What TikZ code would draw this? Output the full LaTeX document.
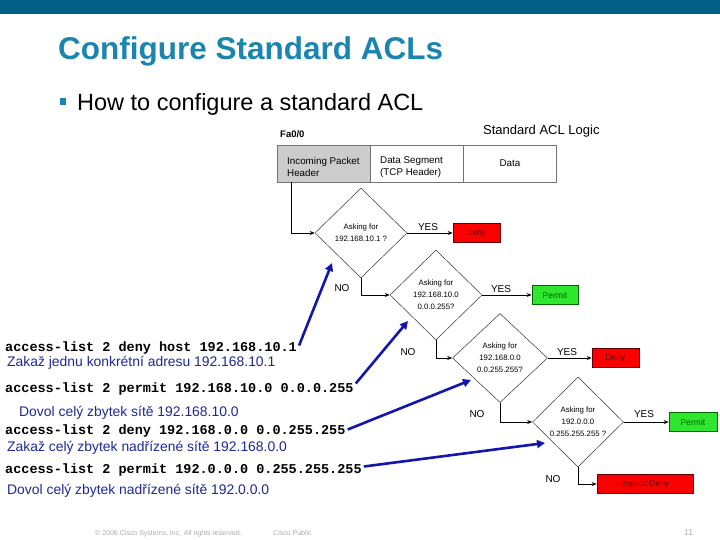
\documentclass[tikz,border=0pt]{standalone}
\usepackage{fontspec}
\setmainfont{Liberation Sans}
\newfontfamily\codefont{Liberation Mono}
\usetikzlibrary{shapes.geometric,arrows.meta}
\definecolor{barblue}{RGB}{0,96,135}
\definecolor{titleteal}{RGB}{27,133,176}
\definecolor{czblue}{RGB}{30,40,150}
\definecolor{arrblue}{RGB}{20,20,175}
\definecolor{boxred}{RGB}{250,0,0}
\definecolor{boxgreen}{RGB}{45,230,45}
\definecolor{cellgray}{RGB}{204,204,204}
\definecolor{footgray}{RGB}{170,170,170}
\tikzset{
  txt/.style={inner sep=0pt, anchor=base west},
  cell/.style={draw=black!55, line width=0.5pt, minimum width=93pt, minimum height=37pt, inner sep=0pt},
  dia/.style={draw=black!80, line width=0.5pt, shape=diamond, minimum width=92pt, minimum height=90pt, inner sep=0pt, align=center, font=\fontsize{7.8}{12}\selectfont},
  redbox/.style={draw=black!60!red, fill=boxred, line width=0.6pt, minimum height=19pt, inner sep=0pt, font=\fontsize{8.5}{10}\selectfont, text=black!60!red},
  greenbox/.style={draw=black!60!green, fill=boxgreen, line width=0.6pt, minimum height=19pt, inner sep=0pt, font=\fontsize{8.5}{10}\selectfont, text=black!60!green},
  flow/.style={draw=black, line width=1pt, -{Stealth[length=5pt,width=4pt]}},
  lbl/.style={inner sep=0pt, font=\fontsize{10}{12}\selectfont},
  code/.style={txt, font=\codefont\bfseries\fontsize{13.5}{16}\selectfont},
  cz/.style={txt, text=czblue, font=\fontsize{13.9}{16}\selectfont},
  bluearrow/.style={draw=arrblue, line width=2.6pt, -{Triangle[length=8pt,width=8pt]}},
  foot/.style={txt, text=footgray, font=\fontsize{7}{8}\selectfont}
}
\begin{document}
\begin{tikzpicture}[x=1pt,y=-1pt]
\useasboundingbox (0,0) rectangle (720,540);
\fill[barblue] (0,0) rectangle (720,14);
\node[txt, text=titleteal, font=\bfseries\fontsize{31.5}{36}\selectfont] (title) at (58,60) {Configure Standard ACLs};
\fill[titleteal] (60,98) rectangle (66,105);
\node[txt, font=\fontsize{23.5}{28}\selectfont] (bullet) at (77,111) {How to configure a standard ACL};
\node[txt, font=\bfseries\fontsize{9.5}{11}\selectfont] (fa) at (280,138) {Fa0/0};
\node[txt, font=\fontsize{13}{15}\selectfont] (logic) at (483,135) {Standard ACL Logic};
% table
\node[cell, fill=cellgray] (hdr) at (323.5,163.5) {};
\node[cell] (seg) at (416.5,163.5) {};
\node[cell] (data) at (510,163.5) {};
\node[txt, font=\fontsize{9.8}{12}\selectfont, align=left, anchor=west] (hdrt) at (287,167) {Incoming Packet\\Header};
\node[txt, font=\fontsize{9.8}{12}\selectfont, align=left, anchor=west] (segt) at (380,167) {Data Segment\\(TCP Header)};
\node[inner sep=0pt, font=\fontsize{9.8}{12}\selectfont] (datat) at (data.center) {Data};
% diamonds
\node[dia] (d1) at (361,233) {Asking for\\192.168.10.1 ?};
\node[dia] (d2) at (436,295) {Asking for\\192.168.10.0\\0.0.0.255?};
\node[dia, minimum width=95pt, minimum height=89pt] (d3) at (500,358) {Asking for\\192.168.0.0\\0.0.255.255?};
\node[dia, minimum width=91pt] (d4) at (578,422) {Asking for\\192.0.0.0\\0.255.255.255 ?};
% result boxes
\node[redbox, minimum width=47pt] (deny1) at (476.5,233) {Deny};
\node[greenbox, minimum width=46pt] (permit1) at (555,295) {Permit};
\node[redbox, minimum width=47pt] (deny2) at (615.5,358) {Deny};
\node[greenbox, minimum width=48pt] (permit2) at (693,422) {Permit};
\node[redbox, minimum width=96pt] (impl) at (645,484) {Implicit Deny};
% flow connectors
\coordinate (entry) at (291,182);
\draw[flow] (entry) |- (d1.west);
\draw[flow] (d1.east) -- (deny1.west);
\draw[flow] (d1.south) |- (d2.west);
\draw[flow] (d2.east) -- (permit1.west);
\draw[flow] (d2.south) |- (d3.west);
\draw[flow] (d3.east) -- (deny2.west);
\draw[flow] (d3.south) |- (d4.west);
\draw[flow] (d4.east) -- (permit2.west);
\draw[flow] (d4.south) |- (impl.west);
% labels
\node[lbl] (y1) at (428,227) {YES};
\node[lbl] (y2) at (501,289) {YES};
\node[lbl] (y3) at (567,352) {YES};
\node[lbl] (y4) at (644,414) {YES};
\node[lbl] (n1) at (342,288) {NO};
\node[lbl] (n2) at (408,352) {NO};
\node[lbl] (n3) at (477,414) {NO};
\node[lbl] (n4) at (553,479) {NO};
% left texts
\node[code] (c1) at (5,351) {access-list 2 deny host 192.168.10.1};
\node[cz] (z1) at (7,366) {Zakaž jednu konkrétní adresu 192.168.10.1};
\node[code] (c2) at (5,392) {access-list 2 permit 192.168.10.0 0.0.0.255};
\node[cz] (z2) at (19,416) {Dovol celý zbytek sítě 192.168.10.0};
\node[code] (c3) at (5,434) {access-list 2 deny 192.168.0.0 0.0.255.255};
\node[cz] (z3) at (7,451) {Zakaž celý zbytek nadřízené sítě 192.168.0.0};
\node[code] (c4) at (5,473) {access-list 2 permit 192.0.0.0 0.255.255.255};
\node[cz] (z4) at (7,494) {Dovol celý zbytek nadřízené sítě 192.0.0.0};
% blue arrows
\coordinate (t1) at (332,263);
\coordinate (t2) at (408,321);
\coordinate (t3) at (471,380);
\coordinate (t4) at (545,443);
\draw[bluearrow] ([shift={(2,-2)}]c1.east) -- (t1);
\draw[bluearrow] ([shift={(2,-5)}]c2.east) -- (t2);
\draw[bluearrow] ([shift={(2,-1)}]c3.east) -- (t3);
\draw[bluearrow] ([shift={(2,-3)}]c4.east) -- (t4);
% footer
\node[foot] (copy) at (95,535) {© 2006 Cisco Systems, Inc. All rights reserved.};
\node[foot] (pub) at (273,535) {Cisco Public};
\node[txt, text=footgray, font=\fontsize{8.5}{10}\selectfont] (pg) at (684,535) {11};
\end{tikzpicture}
\end{document}
